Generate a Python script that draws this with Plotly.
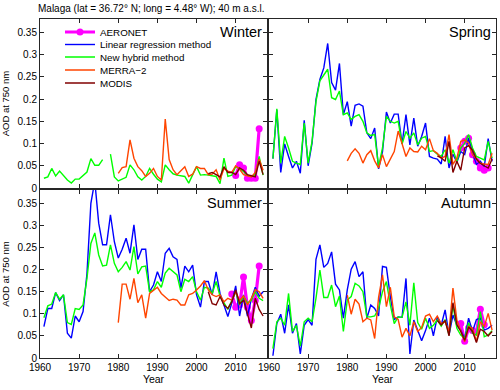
import plotly.graph_objects as go
from plotly.subplots import make_subplots

# years
years = list(range(1961, 2018))      # linear regression / hybrid reconstructions
merra_years = list(range(1980, 2018))
modis_years = list(range(2003, 2018))

# ---- Winter ----
winter_hybrid = [0.022, 0.025, 0.044, 0.027, 0.038, 0.028, 0.018, 0.011, 0.020, 0.020,
                 0.027, 0.036, 0.066, 0.051, 0.051, 0.064, None, 0.076, 0.025, 0.016,
                 0.020, 0.024, 0.052, 0.041, 0.025, 0.018, 0.026, 0.044, 0.031, 0.020,
                 0.014, 0.052, 0.041, 0.032, 0.029, 0.027, 0.026, 0.011, 0.029, 0.048,
                 0.029, 0.030, 0.029, 0.028, 0.026, 0.010, 0.067, 0.026, 0.029, 0.048,
                 0.044, 0.037, 0.029, 0.026, 0.030, 0.071, 0.029]
winter_merra = [0.033, 0.046, 0.048, 0.108, 0.067, 0.048, 0.039, 0.026, 0.033, 0.044,
                0.026, 0.018, 0.155, 0.064, 0.041, 0.030, 0.039, 0.048, 0.026, 0.031,
                0.048, 0.044, 0.044, 0.030, 0.031, 0.041, 0.018, 0.044, 0.038, 0.035,
                0.050, 0.042, 0.030, 0.028, 0.025, 0.035, 0.065, 0.040]
winter_modis = [0.032, 0.035, 0.030, 0.025, 0.048, 0.035, 0.035, 0.030, 0.045, 0.040,
                0.030, 0.028, 0.025, 0.060, 0.030]
winter_aeronet_years = list(range(2010, 2017))
winter_aeronet = [0.028, 0.052, 0.045, 0.022, 0.022, 0.022, 0.133]

# ---- Spring ----
spring_linear = [0.066, 0.176, 0.035, 0.099, 0.071, 0.045, 0.060, 0.033, 0.152, 0.050,
                 0.101, 0.199, 0.244, 0.270, 0.325, 0.237, 0.220, 0.280, 0.165, 0.194,
                 0.139, 0.186, 0.189, 0.184, 0.124, 0.111, 0.135, 0.043, 0.082, 0.171,
                 0.146, 0.166, 0.166, 0.099, 0.165, 0.097, 0.157, 0.094, 0.116, 0.146,
                 0.071, 0.067, 0.065, 0.054, 0.116, 0.045, 0.076, 0.058, 0.082, 0.075,
                 0.112, 0.079, 0.053, 0.060, 0.048, 0.111, 0.060]
spring_hybrid = [0.066, 0.178, 0.056, 0.116, 0.090, 0.060, 0.056, 0.053, 0.146, 0.056,
                 0.105, 0.194, 0.241, 0.255, 0.267, 0.203, 0.199, 0.218, 0.165, 0.169,
                 0.154, 0.161, 0.165, 0.150, 0.124, 0.118, 0.120, 0.048, 0.090, 0.161,
                 0.150, 0.146, 0.150, 0.099, 0.127, 0.112, 0.124, 0.097, 0.112, 0.116,
                 0.082, 0.084, 0.076, 0.071, 0.086, 0.056, 0.086, 0.060, 0.090, 0.101,
                 0.120, 0.090, 0.071, 0.067, 0.063, 0.105, 0.067]
spring_merra = [0.061, 0.078, 0.088, 0.078, 0.056, 0.075, 0.084, 0.061, 0.045, 0.075,
                0.048, 0.067, 0.082, 0.128, 0.097, 0.071, 0.090, 0.082, 0.081, 0.094,
                0.086, 0.111, 0.084, 0.078, 0.067, 0.071, 0.120, 0.053, 0.067, 0.105,
                0.108, 0.101, 0.075, 0.066, 0.056, 0.054, 0.053, 0.078]
spring_modis = [0.072, 0.068, 0.060, 0.105, 0.035, 0.060, 0.040, 0.090, 0.095, 0.085,
                0.065, 0.055, 0.050, 0.045, 0.065]
spring_aeronet_years = list(range(2009, 2017))
spring_aeronet = [0.090, 0.105, 0.112, 0.075, 0.060, 0.045, 0.040, 0.045]

# ---- Summer ----
summer_linear = [0.071, 0.112, 0.112, 0.148, 0.130, 0.143, 0.056, 0.045, 0.095, 0.082,
                 0.105, 0.191, 0.350, 0.400, 0.305, 0.256, 0.256, 0.324, 0.263, 0.226,
                 0.246, 0.271, 0.237, 0.301, 0.223, 0.246, 0.246, 0.150, 0.165, 0.195,
                 0.173, 0.237, 0.248, 0.229, 0.223, 0.158, 0.208, 0.195, 0.210, 0.143,
                 0.115, 0.173, 0.173, 0.143, 0.195, 0.146, 0.120, 0.094, 0.124, 0.163,
                 0.095, 0.143, 0.095, 0.133, 0.160, 0.140, 0.150]
summer_hybrid = [0.091, 0.118, 0.122, 0.148, 0.133, 0.143, 0.080, 0.076, 0.112, 0.110,
                 0.120, 0.180, 0.259, 0.283, 0.233, 0.208, 0.210, 0.256, 0.214, 0.195,
                 0.205, 0.218, 0.199, 0.252, 0.190, 0.206, 0.208, 0.150, 0.154, 0.173,
                 0.160, 0.192, 0.203, 0.195, 0.188, 0.150, 0.178, 0.173, 0.184, 0.150,
                 0.131, 0.160, 0.158, 0.146, 0.173, 0.140, 0.125, 0.110, 0.130, 0.150,
                 0.120, 0.140, 0.125, 0.130, 0.150, 0.135, 0.130]
summer_merra = [0.080, 0.167, 0.167, 0.133, 0.180, 0.125, 0.143, 0.090, 0.146, 0.154,
                0.160, 0.146, 0.137, 0.130, 0.133, 0.131, 0.120, 0.120, 0.143, 0.146,
                0.154, 0.163, 0.175, 0.154, 0.143, 0.139, 0.143, 0.127, 0.135, 0.131,
                0.150, 0.130, 0.140, 0.120, 0.135, 0.155, 0.150, 0.135]
summer_modis = [0.150, 0.123, 0.120, 0.139, 0.120, 0.112, 0.127, 0.154, 0.123, 0.130,
                0.100, 0.068, 0.135, 0.110, 0.095]
summer_aeronet_years = list(range(2009, 2017))
summer_aeronet = [0.145, 0.115, 0.120, 0.183, 0.115, 0.085, 0.130, 0.208]

# ---- Autumn ----
autumn_linear = [0.005, 0.078, 0.099, 0.056, 0.120, 0.056, 0.078, 0.009, 0.074, 0.087,
                 0.074, 0.223, 0.256, 0.205, 0.214, 0.240, 0.167, 0.154, 0.090, 0.154,
                 0.201, 0.218, 0.184, 0.195, 0.090, 0.120, 0.112, 0.095, 0.207, 0.205,
                 0.139, 0.087, 0.093, 0.092, 0.180, 0.009, 0.086, 0.063, 0.039, 0.062,
                 0.090, 0.050, 0.093, 0.074, 0.109, 0.052, 0.097, 0.074, 0.063, 0.044,
                 0.090, 0.060, 0.087, 0.090, 0.063, 0.067, 0.074]
autumn_hybrid = [0.021, 0.082, 0.090, 0.074, 0.146, 0.060, 0.074, 0.027, 0.082, 0.090,
                 0.082, 0.135, 0.199, 0.137, 0.137, 0.165, 0.116, 0.140, 0.060, 0.131,
                 0.139, 0.169, 0.163, 0.150, 0.093, 0.093, 0.095, 0.112, 0.150, 0.173,
                 0.120, 0.078, 0.093, 0.092, 0.127, 0.074, 0.170, 0.080, 0.065, 0.090,
                 0.067, 0.074, 0.086, 0.072, 0.087, 0.052, 0.120, 0.067, 0.052, 0.044,
                 0.080, 0.056, 0.052, 0.105, 0.048, 0.052, 0.062]
autumn_merra = [0.142, 0.099, 0.133, 0.122, 0.082, 0.090, 0.086, 0.044, 0.137, 0.188,
                0.116, 0.160, 0.093, 0.087, 0.047, 0.067, 0.050, 0.082, 0.060, 0.069,
                0.095, 0.099, 0.082, 0.095, 0.078, 0.082, 0.060, 0.158, 0.086, 0.060,
                0.037, 0.071, 0.067, 0.037, 0.082, 0.071, 0.101, 0.063]
autumn_modis = [0.085, 0.075, 0.085, 0.050, 0.125, 0.075, 0.060, 0.040, 0.070, 0.060,
                0.035, 0.065, 0.060, 0.050, 0.060]
autumn_aeronet_years = list(range(2009, 2016))
autumn_aeronet = [0.078, 0.038, 0.068, 0.062, 0.058, 0.110, 0.075]

series_names = ["AERONET", "Linear regression method", "New hybrid method", "MERRA\u22122", "MODIS"]
colors = ["#ff00ff", "#0000ff", "#00ff00", "#ff4500", "#800000"]
ytickvals = [0, 0.05, 0.1, 0.15, 0.2, 0.25, 0.3, 0.35]
yticktext = ["0", "0.05", "0.1", "0.15", "0.2", "0.25", "0.3", "0.35"]
xtickvals = [1960, 1970, 1980, 1990, 2000, 2010]

panels = [
    # (row, col, label, aeronet(x,y), linear, hybrid, merra, modis)
    (1, 1, "Winter", (winter_aeronet_years, winter_aeronet), None, winter_hybrid, winter_merra, winter_modis),
    (1, 2, "Spring", (spring_aeronet_years, spring_aeronet), spring_linear, spring_hybrid, spring_merra, spring_modis),
    (2, 1, "Summer", (summer_aeronet_years, summer_aeronet), summer_linear, summer_hybrid, summer_merra, summer_modis),
    (2, 2, "Autumn", (autumn_aeronet_years, autumn_aeronet), autumn_linear, autumn_hybrid, autumn_merra, autumn_modis),
]

FONT = "Liberation Sans, Arial, sans-serif"
AX = "#262626"

fig = make_subplots(rows=2, cols=2)

legend_done = set()
legend_ids = ["legend", "legend2", "legend3", "legend4", "legend5"]

for row, col, label, aer, lin, hyb, mer, mod in panels:
    data = [aer, (years, lin) if lin else None, (years, hyb), (merra_years, mer), (modis_years, mod)]
    for i, d in enumerate(data):
        if d is None:
            continue
        show = i not in legend_done
        legend_done.add(i)
        if i == 0:
            tr = go.Scatter(x=d[0], y=d[1], mode="lines+markers",
                            line=dict(color=colors[i], width=3.2),
                            marker=dict(color=colors[i], size=7))
        else:
            tr = go.Scatter(x=d[0], y=d[1], mode="lines",
                            line=dict(color=colors[i], width=1.4))
        tr.update(name=series_names[i], showlegend=show, legend=legend_ids[i],
                  connectgaps=False)
        fig.add_trace(tr, row=row, col=col)

# manual subplot domains to match the tight MATLAB layout
W, H = 500, 390
xdom = {1: [40 / W, 267 / W], 2: [269 / W, 496 / W]}
ydom = {1: [1 - 188 / H, 1 - 19 / H], 2: [1 - 358 / H, 1 - 190 / H]}

for row in (1, 2):
    for col in (1, 2):
        fig.update_xaxes(domain=xdom[col], range=[1960, 2018], tickvals=xtickvals,
                         ticks="inside", ticklen=4, tickcolor=AX, showline=True,
                         linecolor=AX, linewidth=1, mirror="ticks", showgrid=False,
                         zeroline=False, showticklabels=(row == 2), automargin=False,
                         tickfont=dict(size=10, color="#000"), row=row, col=col)
        fig.update_yaxes(domain=ydom[row], range=[0, 0.38], tickvals=ytickvals,
                         ticktext=yticktext, ticks="inside", ticklen=4, tickcolor=AX,
                         showline=True, linecolor=AX, linewidth=1, mirror="ticks",
                         showgrid=False, zeroline=False, showticklabels=(col == 1),
                         automargin=False,
                         tickfont=dict(size=10, color="#000"), row=row, col=col)
        if col == 1:
            fig.update_yaxes(title=dict(text="AOD at 750 nm", font=dict(size=9.5, color="#000"),
                                        standoff=6), row=row, col=col)
        if row == 2:
            fig.update_xaxes(title=dict(text="Year", font=dict(size=10.5, color="#000"),
                                        standoff=2), row=row, col=col)

# season labels
for k, (row, col, label, *_rest) in enumerate(panels):
    n = (row - 1) * 2 + col
    suffix = "" if n == 1 else str(n)
    fig.add_annotation(text=label, xref=f"x{suffix} domain", yref=f"y{suffix} domain",
                       x=0.985, y=0.985, xanchor="right", yanchor="top", showarrow=False,
                       font=dict(size=14.5, color="#000"))

fig.add_annotation(text="Malaga (lat = 36.72\u00b0 N; long = 4.48\u00b0 W); 40 m a.s.l.",
                   xref="paper", yref="paper", x=151 / W, y=1 - 8 / H,
                   xanchor="center", yanchor="middle", showarrow=False,
                   font=dict(size=10, color="#000"))

# one legend per entry so the rows can sit tighter than plotly's default spacing
leg_rows = [32, 44.5, 57, 70, 83]
legend_layout = {}
for i, lid in enumerate(legend_ids):
    legend_layout[lid] = dict(x=60 / W, y=1 - leg_rows[i] / H, xanchor="left", yanchor="middle",
                              bgcolor="rgba(0,0,0,0)", borderwidth=0,
                              font=dict(size=9.8, color="#000", family=FONT),
                              itemwidth=30)

fig.update_layout(width=W, height=H, margin=dict(l=0, r=0, t=0, b=0, autoexpand=False),
                  paper_bgcolor="white", plot_bgcolor="white",
                  font=dict(family=FONT, color="#000"), **legend_layout)

# drop the page's default body margin so the figure sits at the window origin
fig.write_html("out.html", config={"displayModeBar": False},
               post_script="document.body.style.margin='0';document.body.style.overflow='hidden';")
